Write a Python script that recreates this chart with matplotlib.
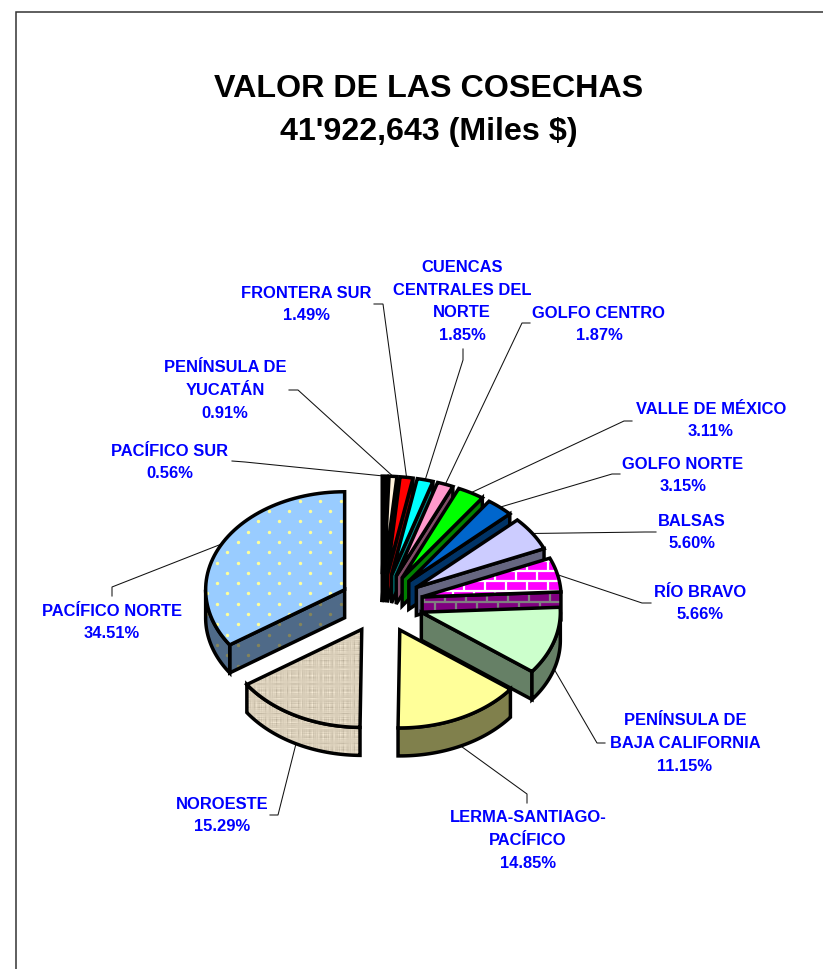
import numpy as np
import matplotlib
matplotlib.use('Agg')
import matplotlib.pyplot as plt
from matplotlib.patches import Polygon
from matplotlib.collections import LineCollection

plt.rcParams['font.family'] = ['Liberation Sans', 'DejaVu Sans']

######### Data ##########################################

regions = ['PACÍFICO SUR', 'PENÍNSULA DE\nYUCATÁN', 'FRONTERA SUR',
           'CUENCAS\nCENTRALES DEL\nNORTE', 'GOLFO CENTRO', 'VALLE DE MÉXICO',
           'GOLFO NORTE', 'BALSAS', 'RÍO BRAVO', 'PENÍNSULA DE\nBAJA CALIFORNIA',
           'LERMA-SANTIAGO-\nPACÍFICO', 'NOROESTE', 'PACÍFICO NORTE']
shares = [0.56, 0.91, 1.49, 1.85, 1.87, 3.11, 3.15, 5.60, 5.66, 11.15, 14.85, 15.29, 34.51]

top_colors = ['#000000', '#FFF2DC', '#FF0000', '#00FFFF', '#FF99CC', '#00FF00', '#0066CC',
              '#CCCCFF', '#FF00FF', '#CCFFCC', '#FFFF99', '#DDD2BC', '#99CCFF']
wall_colors = ['#000000', '#807969', '#800000', '#008080', '#804C66', '#008000', '#003366',
               '#666680', '#800080', '#668066', '#80804C', '#DDD2BC', '#4F6A88']

title_lines = "VALOR DE LAS COSECHAS\n41'922,643 (Miles $)"

######### Layout, in pixels of the 823x969 picture ######

CX, CY = 381.5, 603.5     # centre of the pie before the slices are pulled out
RX, RY = 139, 98
DEPTH = 28
EXPLODE = 0.30

label_xy = [(170, 461), (225, 389), (306, 303), (462, 300), (599, 323), (711, 419), (683, 474),
            (692, 531), (700, 602), (685, 742), (528, 839), (222, 814), (112, 621)]
# leader path from the label side, the last point is added from the slice
leaders = [[(232, 461), (245, 462)], [(289, 390), (298, 390)], [(374, 304), (383, 304)],
           [(463, 349), (463, 360)], [(530, 323), (522, 323)], [(632, 421), (624, 421)],
           [(620, 474), (612, 474)], [(656, 532), (645, 532)], [(651, 603), (642, 603)],
           [(605, 743), (597, 743)], [(527, 803), (527, 794)], [(270, 815), (278, 815)],
           [(112, 596), (112, 587)]]

LW = 2.5

fig = plt.figure(figsize=(8.23, 9.69), dpi=100)
ax = fig.add_axes([0, 0, 1, 1])
ax.set_xlim(0, 823)
ax.set_ylim(969, 0)
ax.axis('off')


def arc(cx, cy, a0, a1, n=60):
    t = np.radians(np.linspace(a0, a1, n))
    return np.column_stack([cx + RX * np.sin(t), cy - RY * np.cos(t)])


def brick_lines(x0, x1, y0, y1, step_y=10.2, step_x=21):
    segs = []
    for i, y in enumerate(np.arange(y0, y1, step_y)):
        segs.append([(x0, y), (x1, y)])
        for x in np.arange(x0 + (i % 2) * step_x / 2, x1, step_x):
            segs.append([(x, y), (x, y + step_y)])
    return segs


def dot_grid(x0, x1, y0, y1, step_x=20.6, step_y=10.3):
    pts = []
    for i, y in enumerate(np.arange(y0, y1, step_y)):
        for x in np.arange(x0 + (i % 2) * step_x / 2, x1, step_x):
            pts.append((x, y))
    return np.array(pts)


# woven cloth look for the Noroeste slice: uneven threads in both directions
yy, xx = np.mgrid[400:800, 200:400].astype(float)
warp = np.sin(1.7 * xx) + np.sin(1.13 * xx + 1) + np.sin(2.9 * xx + 2)
weft = np.sin(1.9 * yy + 0.5) + np.sin(1.07 * yy + 2) + np.sin(3.1 * yy)
burlap = (warp * (0.6 + 0.4 * np.sin(0.43 * yy + 0.7 * np.sin(0.11 * xx))) * 7
          + weft * (0.6 + 0.4 * np.sin(0.37 * xx + 0.9 * np.sin(0.07 * yy))) * 7)
burlap_rgb = np.clip(np.dstack([218 + burlap, 207 + burlap, 186 + burlap]) / 255, 0, 1)


def texture(poly, name, top):
    # pattern fills, clipped to the face they sit on
    if name == 'RÍO BRAVO':
        if top:
            segs, col = brick_lines(401, 580, 560.5, 630), 'white'
        else:
            segs, col = brick_lines(414, 580, 561.2, 630), '#808080'
        lc = LineCollection(segs, colors=col, linewidths=1.6, zorder=poly.get_zorder())
        ax.add_collection(lc)
        lc.set_clip_path(poly)
    elif name == 'PACÍFICO NORTE':
        pts = dot_grid(196.6, 360, 480.1, 700)
        sc = ax.scatter(pts[:, 0], pts[:, 1], s=6, linewidths=0, color='#FFFF99' if top else '#84845A',
                        zorder=poly.get_zorder())
        sc.set_clip_path(poly)
    elif name == 'NOROESTE':
        im = ax.imshow(burlap_rgb, extent=(200, 400, 800, 400), interpolation='nearest',
                       aspect='auto', zorder=poly.get_zorder())
        im.set_clip_path(poly)


def face(points, fill, name, z, top):
    poly = Polygon(points, closed=True, facecolor=fill, edgecolor='none', zorder=z)
    ax.add_patch(poly)
    texture(poly, name, top)
    ax.add_patch(Polygon(points, closed=True, facecolor='none', edgecolor='black', linewidth=LW,
                         joinstyle='miter', zorder=z))


######### Slices, clockwise from twelve o'clock #########

edges = np.cumsum([0] + shares) / sum(shares) * 360
shift = np.array([0, DEPTH])
z = 2
for i, name in enumerate(regions):
    a0, a1 = edges[i], edges[i + 1]
    mid = (a0 + a1) / 2
    m = np.radians(mid)
    cx = CX + EXPLODE * RX * np.sin(m)
    cy = CY - EXPLODE * RY * np.cos(m)
    apex = np.array([cx, cy])
    outer = arc(cx, cy, a0, a1)

    # radial faces and the outer wall, only where they look towards the viewer
    if np.sin(np.radians(a0)) < -0.02:
        face([apex, outer[0], outer[0] + shift, apex + shift], wall_colors[i], name, z, False)
    if np.sin(np.radians(a1)) > 0.02:
        face([apex, outer[-1], outer[-1] + shift, apex + shift], wall_colors[i], name, z, False)
    lo, hi = max(a0, 90), min(a1, 270)
    if hi > lo:
        w = arc(cx, cy, lo, hi)
        face(np.vstack([w, (w + shift)[::-1]]), wall_colors[i], name, z, False)
    face(np.vstack([apex, outer]), top_colors[i], name, z + 1, True)
    z += 2

    # leader line and label
    tip = arc(cx, cy, mid, mid, 1)[0]
    if 90 < mid < 270:
        tip = tip + shift
    path = np.array(leaders[i] + [tuple(tip)])
    ax.plot(path[:, 0], path[:, 1], color='#111111', lw=0.75, zorder=1, solid_joinstyle='miter')
    ax.text(label_xy[i][0], label_xy[i][1] + 1.5, name + '\n%.2f%%' % shares[i], color='#0000FF',
            fontsize=11.9, fontweight='bold', ha='center', va='center', linespacing=1.63, zorder=100)

ax.text(429, 110.5, title_lines, color='black', fontsize=23.2, fontweight='bold', ha='center', va='center',
        linespacing=1.53)

# chart frame, only its top and left sides fall inside the picture
ax.plot([823, 16.5, 16.5], [11.5, 11.5, 969], color='#333333', lw=1.1, solid_joinstyle='miter')

ax.set_xlim(0, 823)
ax.set_ylim(969, 0)
fig.savefig('out.png', dpi=100)
